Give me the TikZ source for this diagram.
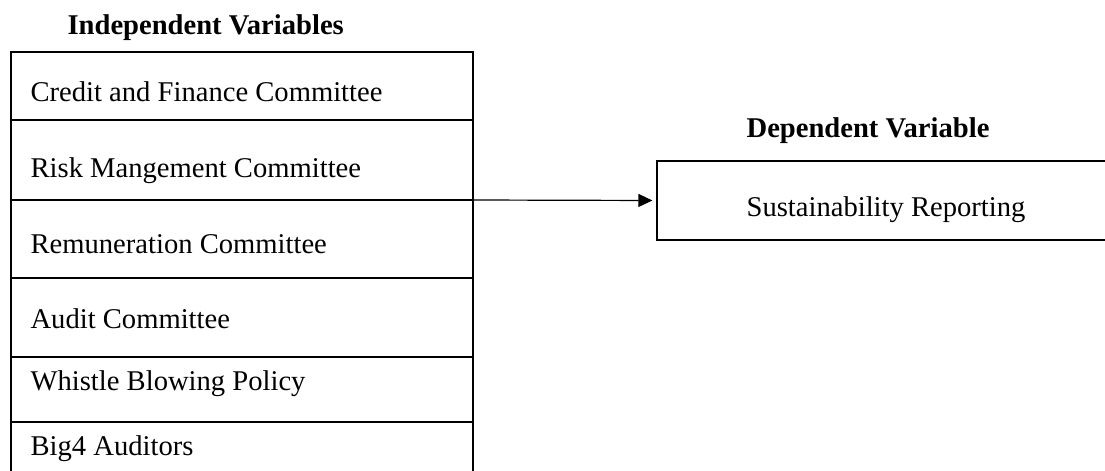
\documentclass[tikz,border=0pt]{standalone}
\usepackage{fontspec}
\setmainfont{Liberation Serif}
\usetikzlibrary{arrows.meta}

\begin{document}
\begin{tikzpicture}[x=0.5pt, y=-0.5pt, line width=0.6pt,
                    head/.style = {font=\fontsize{14.3}{17}\selectfont\bfseries, inner sep=0pt, anchor=base west},
                    item/.style = {font=\fontsize{14.3}{17}\selectfont, inner sep=0pt, anchor=base west},
                    box/.style = {draw, minimum width=229pt, minimum height=39.5pt, inner sep=0pt}]
    \clip (0,0) rectangle (1105,471);
    \node[head] (ivhead) at (67,34) {Independent Variables};
    \node[head] (dvhead) at (746,137) {Dependent Variable};
    % table of independent variables
    \draw (11,480) -- (11,52) -- (473,52) -- (473,480);
    \foreach \y in {120,200,278,357,422}
        \draw (11,\y) -- (473,\y);
    \node[item] (credit) at (30,101) {Credit and Finance Committee};
    \node[item] (risk) at (30,177) {Risk Mangement Committee};
    \node[item] (remun) at (30,253) {Remuneration Committee};
    \node[item] (audit) at (30,328) {Audit Committee};
    \node[item] (whistle) at (30,390) {Whistle Blowing Policy};
    \node[item] (big4) at (30,455) {Big4 Auditors};
    % dependent variable
    \node[box] (dvbox) at (886,200.5) {};
    \node[item] (sr) at (746,216) {Sustainability Reporting};
    \coordinate (ivout) at (473,200);
    \draw[-{Triangle[length=7pt, width=6.5pt]}, shorten >=2pt] (ivout) -- (dvbox.west);
\end{tikzpicture}
\end{document}
